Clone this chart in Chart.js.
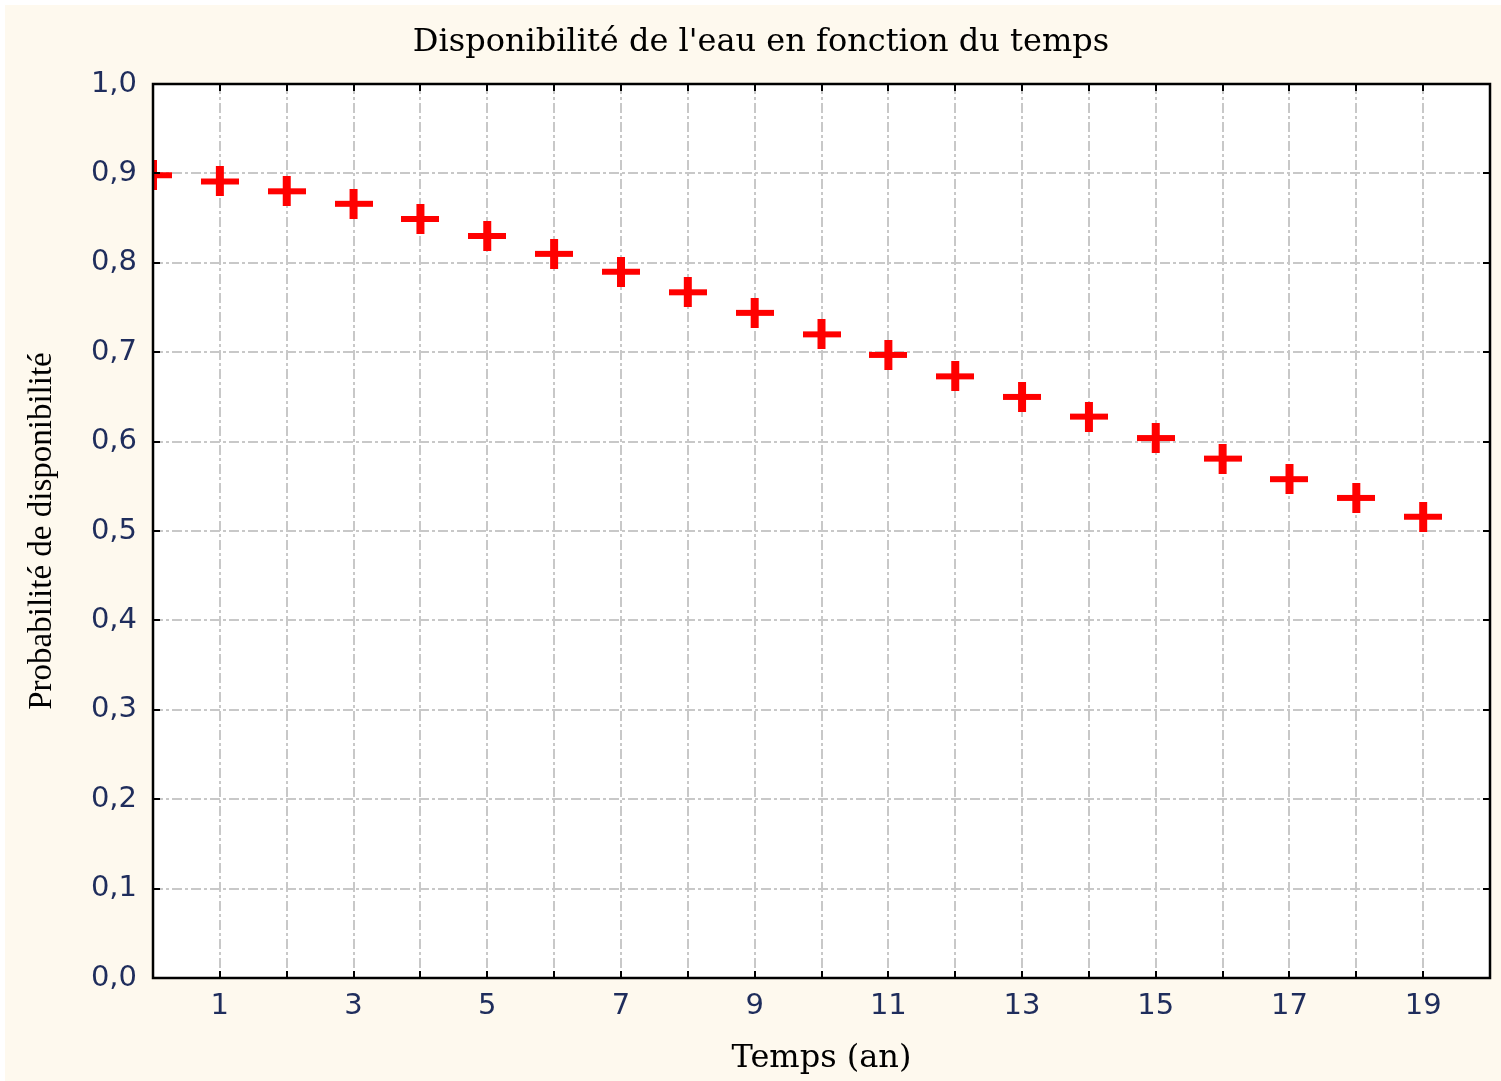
<!DOCTYPE html>
<html>
<head>
<meta charset="utf-8">
<script src="https://cdn.jsdelivr.net/npm/chart.js@4"></script>
<style>
    body { margin: 0; background: #ffffff; }
    #wrap { position: absolute; left: 5px; top: 5px; width: 1496px; height: 1076px; background: #fef9ee; }
</style>
</head>
<body>
<div id="wrap"><canvas id="chart" width="1496" height="1076"></canvas></div>
<script>
// data
const years = [0, 1, 2, 3, 4, 5, 6, 7, 8, 9, 10, 11, 12, 13, 14, 15, 16, 17, 18, 19];
const availability = [0.898, 0.891, 0.880, 0.866, 0.849, 0.830, 0.810, 0.790, 0.767, 0.744,
                      0.720, 0.697, 0.673, 0.650, 0.628, 0.604, 0.581, 0.558, 0.537, 0.516];
const xLabels = [1, 3, 5, 7, 9, 11, 13, 15, 17, 19];

const tickColor = '#1f2d5c';

// wide red cross used as point style
function makeCross() {
    const c = document.createElement('canvas');
    c.width = 38;
    c.height = 30;
    const g = c.getContext('2d');
    g.fillStyle = '#ff0000';
    g.fillRect(0, 12, 38, 6);
    g.fillRect(15, 0, 8, 30);
    return c;
}

// white plot background
const plotBg = {
    id: 'plotBg',
    beforeDraw(chart) {
        const { ctx, chartArea: a } = chart;
        ctx.save();
        ctx.fillStyle = '#ffffff';
        ctx.fillRect(a.left, a.top, a.right - a.left, a.bottom - a.top);
        ctx.restore();
    }
};

// frame and inner tick marks on all four sides
const framePlugin = {
    id: 'frame',
    afterDraw(chart) {
        const { ctx, chartArea: a, scales: { x, y } } = chart;
        ctx.save();
        ctx.strokeStyle = '#000000';
        ctx.lineWidth = 2;
        ctx.beginPath();
        for (let v = 1; v < 20; v++) {
            const px = Math.round(x.getPixelForValue(v));
            ctx.moveTo(px, a.bottom); ctx.lineTo(px, a.bottom - 7);
            ctx.moveTo(px, a.top); ctx.lineTo(px, a.top + 7);
        }
        for (let i = 1; i < 10; i++) {
            const py = Math.round(y.getPixelForValue(i / 10));
            ctx.moveTo(a.left, py); ctx.lineTo(a.left + 7, py);
            ctx.moveTo(a.right, py); ctx.lineTo(a.right - 7, py);
        }
        ctx.stroke();
        ctx.lineWidth = 2.5;
        ctx.strokeRect(a.left, a.top, a.right - a.left, a.bottom - a.top);
        ctx.restore();
    }
};

new Chart(document.getElementById('chart'), {
    type: 'scatter',
    data: {
        datasets: [{
            data: years.map((t, i) => ({ x: t, y: availability[i] })),
            pointStyle: makeCross(),
            showLine: false,
            clip: 0
        }]
    },
    options: {
        responsive: false,
        animation: false,
        layout: { padding: { left: 24, right: 8, top: 0, bottom: 0 } },
        plugins: {
            legend: { display: false },
            tooltip: { enabled: false },
            title: {
                display: true,
                text: "Disponibilité de l'eau en fonction du temps",
                color: '#000000',
                font: { family: 'DejaVu Serif', size: 32, weight: 'normal' },
                padding: { top: 18, bottom: 22.6 }
            }
        },
        scales: {
            x: {
                type: 'linear',
                min: 0,
                max: 20,
                afterFit(scale) { scale.height = 103; },
                grid: { color: '#c8c8c8', lineWidth: 2, drawTicks: false },
                border: { display: false, dash: [10, 3, 3, 3] },
                ticks: {
                    stepSize: 1,
                    padding: 11,
                    color: tickColor,
                    font: { family: 'DejaVu Sans', size: 29 },
                    callback: v => xLabels.includes(v) ? String(v) : ''
                },
                title: {
                    display: true,
                    text: 'Temps (an)',
                    color: '#000000',
                    font: { family: 'DejaVu Serif', size: 32 },
                    padding: { top: 0, bottom: 3 }
                }
            },
            y: {
                min: 0,
                max: 1,
                afterFit(scale) { scale.width = 124; },
                grid: { color: '#c8c8c8', lineWidth: 2, drawTicks: false },
                border: { display: false, dash: [10, 3, 3, 3] },
                ticks: {
                    stepSize: 0.1,
                    padding: 16,
                    color: tickColor,
                    font: { family: 'DejaVu Sans', size: 29 },
                    callback: v => v.toFixed(1).replace('.', ',')
                },
                title: {
                    display: true,
                    text: 'Probabilité de disponibilité',
                    color: '#000000',
                    font: { family: 'Liberation Serif', size: 33 },
                    padding: { top: -6, bottom: 0 }
                }
            }
        }
    },
    plugins: [plotBg, framePlugin]
});
</script>
</body>
</html>
